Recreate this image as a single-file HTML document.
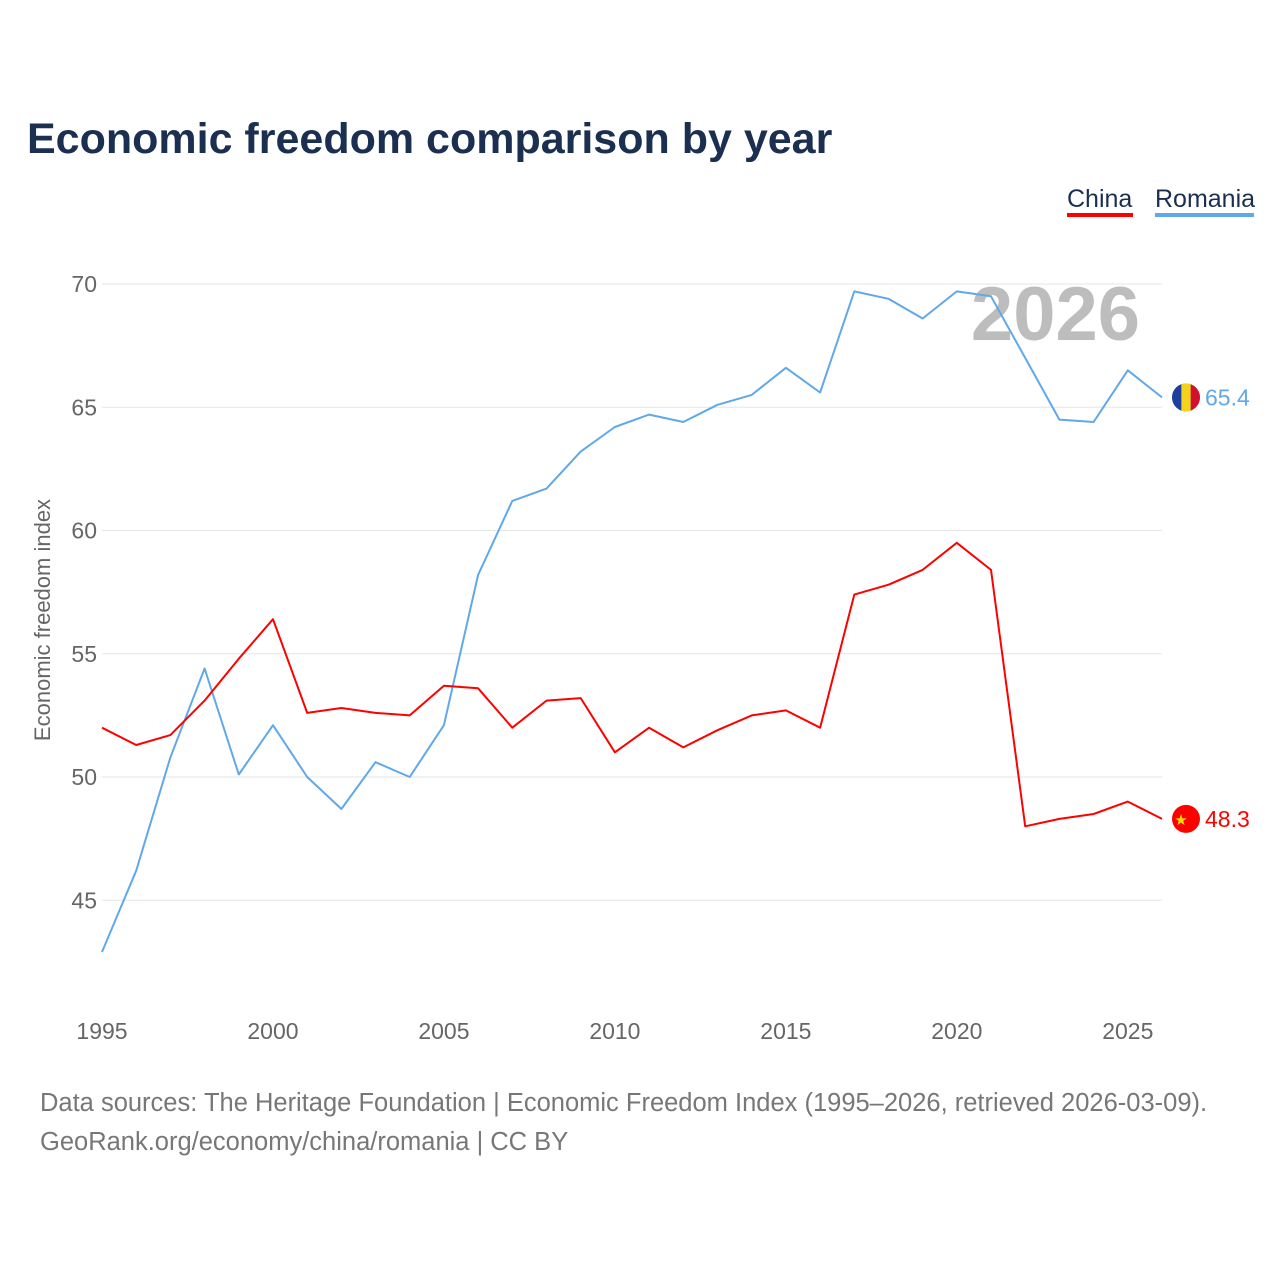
<!DOCTYPE html>
<html><head><meta charset="utf-8">
<style>
body{margin:0;background:#fff;font-family:"Liberation Sans",sans-serif;}
svg text{font-family:"Liberation Sans",sans-serif;}
</style></head>
<body>
<svg id="chart" width="1280" height="1280" viewBox="0 0 1280 1280">
<defs><clipPath id="roclip"><circle id="roclipc" cx="1186" cy="0" r="14"/></clipPath></defs>
<text x="27" y="153" font-size="43" font-weight="bold" fill="#1b2f50">Economic freedom comparison by year</text>
<g>
<text x="1067" y="207" font-size="25" fill="#1b2f50">China</text>
<rect x="1067" y="213" width="66" height="4" fill="#ff0000"/>
<text x="1155" y="207" font-size="25" fill="#1b2f50">Romania</text>
<rect x="1155" y="213" width="99" height="4" fill="#5fa8ea"/>
</g>
<g id="grid"></g>
<g id="yticks"></g>
<g id="xticks"></g>
<text x="1140" y="340" font-size="76" font-weight="bold" fill="#bdbdbd" text-anchor="end">2026</text>
<text transform="translate(50,620) rotate(-90)" font-size="22" fill="#666" text-anchor="middle">Economic freedom index</text>
<g id="series"></g>
<text x="40" y="1111" font-size="25.5" fill="#777">Data sources: The Heritage Foundation | Economic Freedom Index (1995–2026, retrieved 2026-03-09).</text>
<text x="40" y="1150" font-size="25.5" fill="#777">GeoRank.org/economy/china/romania | CC BY</text>
</svg>
<script>
const years=[1995,1996,1997,1998,1999,2000,2001,2002,2003,2004,2005,2006,2007,2008,2009,2010,2011,2012,2013,2014,2015,2016,2017,2018,2019,2020,2021,2022,2023,2024,2025,2026];
const romania=[42.9,46.2,50.8,54.4,50.1,52.1,50.0,48.7,50.6,50.0,52.1,58.2,61.2,61.7,63.2,64.2,64.7,64.4,65.1,65.5,66.6,65.6,69.7,69.4,68.6,69.7,69.5,67.0,64.5,64.4,66.5,65.4];
const china=[52.0,51.3,51.7,53.1,54.8,56.4,52.6,52.8,52.6,52.5,53.7,53.6,52.0,53.1,53.2,51.0,52.0,51.2,51.9,52.5,52.7,52.0,57.4,57.8,58.4,59.5,58.4,48.0,48.3,48.5,49.0,48.3];
const yTicks=[45,50,55,60,65,70];
const xTicks=[1995,2000,2005,2010,2015,2020,2025];
const NS="http://www.w3.org/2000/svg";
const X=v=>102+(v-1995)*(1060/31);
const Y=v=>284+(70-v)*24.65;
function mk(tag,attrs,parent,txt){const e=document.createElementNS(NS,tag);for(const k in attrs)e.setAttribute(k,attrs[k]);if(txt!==undefined)e.textContent=txt;parent.appendChild(e);return e;}
const grid=document.getElementById('grid'),yt=document.getElementById('yticks'),xt=document.getElementById('xticks'),ser=document.getElementById('series');
yTicks.forEach(t=>{
 const l=mk('line',{x1:102,x2:1162,y1:Y(t),y2:Y(t),stroke:'#e6e6e6','stroke-width':1},grid);
 
 
 const s=mk('text',{x:97,y:Y(t)+8,'font-size':23,fill:'#666','text-anchor':'end'},yt,String(t));
 
 
});
xTicks.forEach(t=>{
 const s=mk('text',{x:X(t),y:1039,'font-size':23,fill:'#666','text-anchor':'middle'},xt,String(t));
 
 
});
function line(vals,color,name){
 const d=vals.map((v,i)=>(i?'L':'M')+X(years[i]).toFixed(1)+','+Y(v).toFixed(1)).join(' ');
 const p=mk('path',{d:d,fill:'none',stroke:color,'stroke-width':2,'stroke-linejoin':'round'},ser);
 
 
 const last=vals[vals.length-1];
 const c=mk('circle',{cx:1186,cy:Y(last),r:14,fill:color},ser);
 
 
 const lab=mk('text',{x:1205,y:Y(last)+8,'font-size':23,fill:color},ser,last.toFixed(1));
 
 
}
line(romania,'#5fa8ea','romania');
line(china,'#ff0000','china');
const ry=Y(romania[romania.length-1]);
document.getElementById('roclipc').setAttribute('cy',ry);
const fg=mk('g',{'clip-path':'url(#roclip)'},ser);


const fb=mk('rect',{x:1172,y:ry-14,width:9.4,height:28,fill:'#1d3f9e'},fg);


const fyl=mk('rect',{x:1181.4,y:ry-14,width:9.3,height:28,fill:'#f7d21a'},fg);


const fr=mk('rect',{x:1190.7,y:ry-14,width:9.4,height:28,fill:'#d4102a'},fg);


const cy=Y(china[china.length-1]);
const st=mk('text',{x:1181,y:cy+6,'font-size':15,fill:'#ffde00','text-anchor':'middle'},ser,'★');


</script>
</body></html>
